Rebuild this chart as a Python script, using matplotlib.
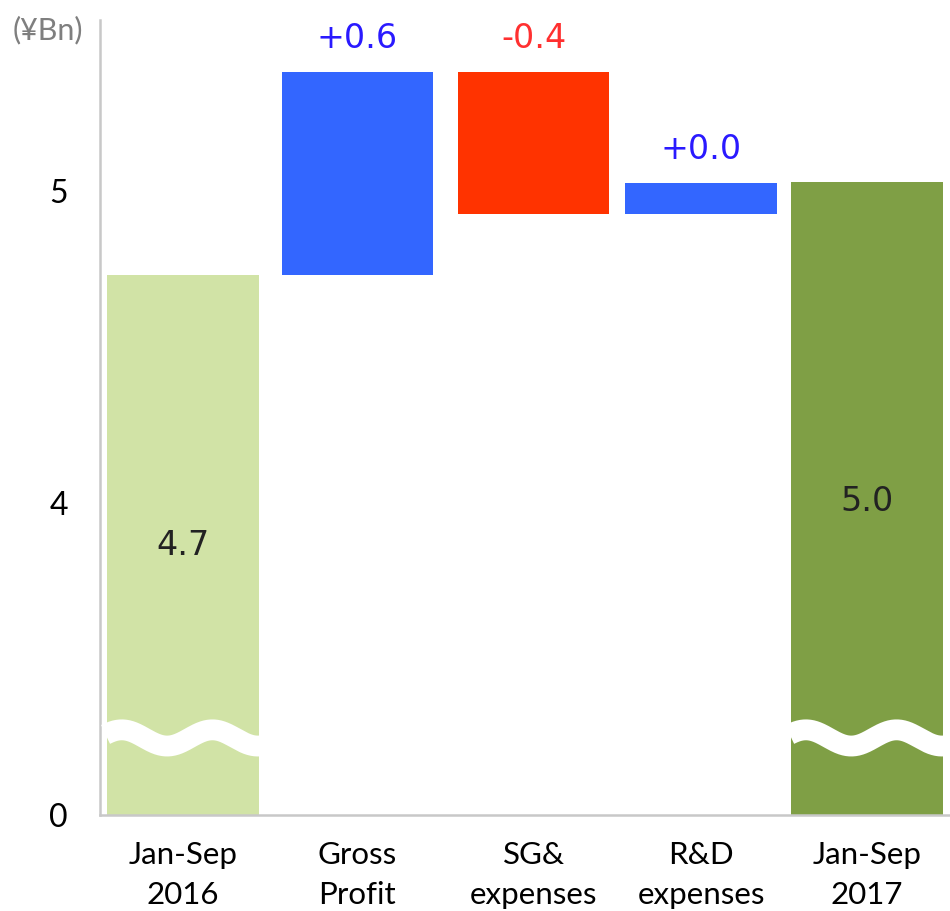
import numpy as np
import matplotlib
matplotlib.use("Agg")
import matplotlib.pyplot as plt

# ---- data ----
categories = ["Jan-Sep\n2016", "Gross\nProfit", "SG&\nexpenses", "R&D\nexpenses", "Jan-Sep\n2017"]
start_total = 4.73
changes = [0.65, -0.455, 0.10]
end_total = 5.03
change_labels = ["+0.6", "-0.4", "+0.0"]
total_labels = ["4.7", "5.0"]
ytick_values = [3.0, 4.0, 5.0]      # axis is broken: 3.0 is drawn as "0"
ytick_labels = ["0", "4", "5"]
axis_floor = 3.0

light_green = "#d1e3a6"
dark_green = "#7f9f45"
blue = "#3366ff"
red = "#ff3300"

fig = plt.figure(figsize=(9.5, 9.11), dpi=100)
ax = fig.add_axes([100/950, 1 - 815/911, 850/950, (815 - 20)/911])

x = np.array([0.0, 1.02, 2.05, 3.03, 4.0])
width = 0.885

# totals
ax.bar(x[0], start_total - axis_floor, bottom=axis_floor, width=width, color=light_green, zorder=2)
ax.bar(x[-1], end_total - axis_floor, bottom=axis_floor, width=width, color=dark_green, zorder=2)

# changes
level = start_total
for i, c in enumerate(changes):
    col = blue if c >= 0 else red
    bottom = level if c >= 0 else level + c
    ax.bar(x[i + 1], abs(c), bottom=bottom, width=width, color=col, zorder=2)
    top = max(level, level + c)
    tcol = "#2a1aff" if c >= 0 else "#ff3030"
    ax.text(x[i + 1], top + 0.055, change_labels[i], ha="center", va="bottom",
            fontsize=24, color=tcol, family="DejaVu Sans")
    level += c

# total labels
ax.text(x[0], (start_total + axis_floor) / 2, total_labels[0], ha="center", va="center",
        fontsize=24, color="#222222", family="DejaVu Sans")
ax.text(x[-1], (end_total + axis_floor) / 2 - 0.01, total_labels[1], ha="center", va="center",
        fontsize=24, color="#222222", family="DejaVu Sans")

# wavy break marks on total bars
for xi in (x[0], x[-1]):
    left = xi - width / 2
    xs = np.linspace(left - 0.01, left + width + 0.01, 300)
    dx = xs - left
    ys = 3.247 - 0.026 * np.cos(2 * np.pi * (dx - 0.35) / 0.53)
    ax.plot(xs, ys, color="white", lw=15, solid_capstyle="butt", zorder=3)

ax.set_xlim(-0.485, 4.485)
ax.set_ylim(axis_floor, 3.0 + (815 - 20) / 312)
ax.set_xticks(x)
ax.set_xticklabels(categories, fontsize=22.5, family="Lato", linespacing=1.5)
ax.set_yticks(ytick_values)
ax.set_yticklabels(ytick_labels, fontsize=23, family="Lato")
ax.tick_params(axis="both", length=0)
ax.tick_params(axis="y", pad=23)
ax.tick_params(axis="x", pad=19)

for s in ("top", "right"):
    ax.spines[s].set_visible(False)
for s in ("left", "bottom"):
    ax.spines[s].set_color("#c8c8c8")
    ax.spines[s].set_linewidth(1.8)

fig.text(48/950, 1 - 30/911, "(¥Bn)", ha="center", va="center", fontsize=22,
         color="#7f7f7f", family="Lato")

fig.savefig("out.png", dpi=100)
